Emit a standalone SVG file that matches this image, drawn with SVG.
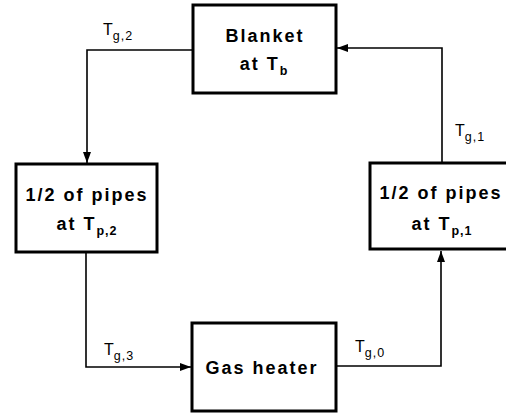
<svg xmlns="http://www.w3.org/2000/svg" width="506" height="413" viewBox="0 0 506 413">
<defs>
<marker id="arr" markerUnits="userSpaceOnUse" markerWidth="12" markerHeight="10" refX="11" refY="5" orient="auto">
<path d="M0,1 L11,5 L0,9 Z" fill="#000"/>
</marker>
<style>
.box{fill:#fff;stroke:#000;stroke-width:3}
.bt{font-family:"Liberation Sans",Arial,sans-serif;font-weight:bold;font-size:18px;letter-spacing:2px;fill:#000;text-anchor:middle}
.lbl{font-family:"Liberation Sans",Arial,sans-serif;font-size:16px;fill:#000}
.sub{font-size:12.5px;letter-spacing:1px}
.con{fill:none;stroke:#000;stroke-width:1.6}
</style>
</defs>
<rect width="506" height="413" fill="#fff"/>
<g id="connectors">
<path class="con" d="M336,366 H441 V251" marker-end="url(#arr)"/>
<path class="con" d="M442,163 V48 H337" marker-end="url(#arr)"/>
<path class="con" d="M193,50 H87 V163" marker-end="url(#arr)"/>
<path class="con" d="M86,252 V367 H191" marker-end="url(#arr)"/>
<text class="lbl" x="455" y="136">T<tspan class="sub" dy="5">g,1</tspan></text>
<text class="lbl" x="103" y="35">T<tspan class="sub" dy="5">g,2</tspan></text>
<text class="lbl" x="104" y="355">T<tspan class="sub" dy="5">g,3</tspan></text>
<text class="lbl" x="355" y="352">T<tspan class="sub" dy="5">g,0</tspan></text>
</g>
<g id="blanket">
<rect class="box" x="193" y="5" width="143" height="88"/>
<text class="bt" x="265" y="42">Blanket</text>
<text class="bt" x="264" y="70">at T<tspan class="sub" dy="5">b</tspan></text>
</g>
<g id="pipes2">
<rect class="box" x="16" y="164" width="141" height="88"/>
<text class="bt" x="87" y="201">1/2 of pipes</text>
<text class="bt" x="87" y="230">at T<tspan class="sub" dy="5">p,2</tspan></text>
</g>
<g id="pipes1">
<rect class="box" x="370" y="163" width="150" height="86"/>
<text class="bt" x="441" y="199">1/2 of pipes</text>
<text class="bt" x="442" y="230">at T<tspan class="sub" dy="5">p,1</tspan></text>
</g>
<g id="heater">
<rect class="box" x="192" y="323" width="144" height="88"/>
<text class="bt" x="262" y="374">Gas heater</text>
</g>
</svg>
